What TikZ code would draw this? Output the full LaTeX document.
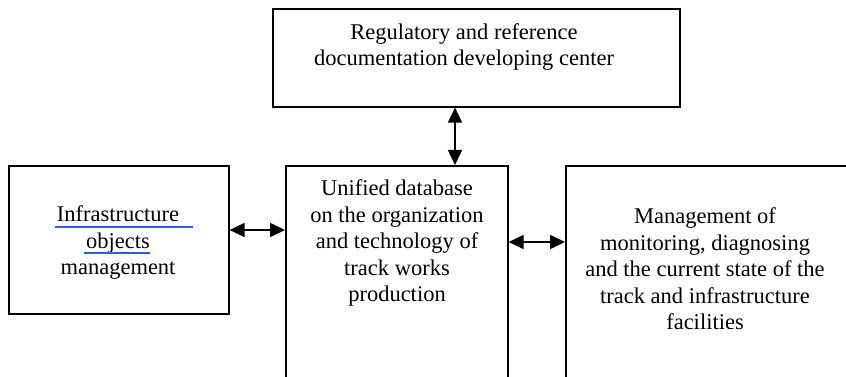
\documentclass[tikz,border=0pt]{standalone}
\usepackage{fontspec}
\setmainfont{Liberation Serif}
\usetikzlibrary{arrows.meta}
\definecolor{ulblue}{RGB}{45,95,215}
\tikzset{
  box/.style={draw=black, line width=1.6pt, inner sep=0pt, anchor=north west},
  txt/.style={align=center, inner sep=0pt, font=\fontsize{22.5}{26.5}\selectfont},
  link/.style={line width=1.6pt, {Triangle[length=15pt,width=14pt]}-{Triangle[length=15pt,width=14pt]}},
  ul/.style={draw=ulblue, line width=2.4pt}
}
\begin{document}
\begin{tikzpicture}[x=1pt,y=-1pt]
\useasboundingbox (0,0) rectangle (846,377);
\clip (0,0) rectangle (846,377);
% boxes
\node[box, minimum width=407pt, minimum height=98pt] (top) at (272,8) {};
\node[box, minimum width=220pt, minimum height=148pt] (left) at (8,165) {};
\node[box, minimum width=222pt, minimum height=240pt] (mid) at (285,165) {};
\node[box, minimum width=320pt, minimum height=240pt] (right) at (565,165) {};
% texts
\node[txt] (toptxt) at (464,47) {Regulatory and reference\\documentation developing center};
\node[txt] (lefttxt) at (118,243) {Infrastructure\\objects\\management};
\node[txt] (midtxt) at (397,243) {Unified database\\on the organization\\and technology of\\track works\\production};
\node[txt] (righttxt) at (705,269) {Management of\\monitoring, diagnosing\\and the current state of the\\track and infrastructure\\facilities};
% underlines
\coordinate (u1a) at (55,227); \coordinate (u1b) at (193,227);
\coordinate (u2a) at (84,253); \coordinate (u2b) at (150,253);
\draw[ul] (u1a) -- (u1b);
\draw[ul] (u2a) -- (u2b);
% connectors
\draw[link] (top.south -| 455,0) -- (mid.north -| 455,0);
\draw[link] (left.east |- 0,230) -- (mid.west |- 0,230);
\draw[link] (mid.east |- 0,242) -- (right.west |- 0,242);
\end{tikzpicture}
\end{document}
